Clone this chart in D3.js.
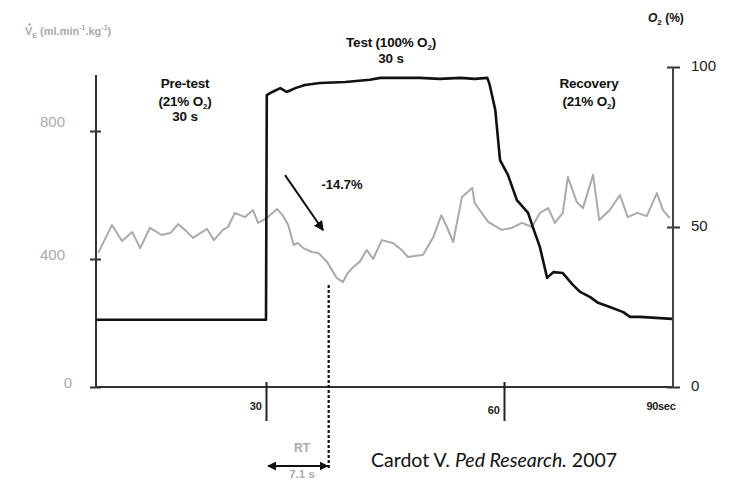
<!DOCTYPE html>
<html><head><meta charset="utf-8">
<script src="https://cdn.jsdelivr.net/npm/d3@7"></script>
<style>body{margin:0;background:#fff}svg{display:block}</style>
</head><body>
<script>
// ---- data ----
const o2Time = [0, 30, 30.1, 30.8, 31.8, 32.6, 33.7, 34.9, 36.8, 40.0,
                43.1, 44.4, 49.4, 51.9, 54.5, 56.3, 57.9, 58.2, 58.9, 59.5,
                60.7, 62.3, 64.3, 65.2, 66.4, 67.7, 68.8, 70.5, 72.3, 73.6,
                75.4, 76.8, 78.9, 81.3, 82.5, 84.3, 90];
const o2Pct  = [21, 21, 91.2, 92.2, 93.4, 92.2, 93.4, 94.4, 95, 95.3,
                96, 96.6, 96.6, 96.3, 96.6, 96.3, 96.6, 94.4, 86.6, 70.9,
                66.3, 58.4, 54.4, 49.7, 43.8, 34.1, 35.9, 35.6, 31.9, 29.7,
                28.1, 26.3, 25, 23.4, 21.9, 21.9, 21.3];
const veTime = [0.4, 2.8, 4.6, 6.4, 7.8, 9.5, 11.6, 13.1, 14.5, 16.1,
                17.1, 19.6, 20.8, 22.4, 23.3, 24.5, 26.3, 27.7, 28.6, 30.1,
                31.4, 32.1, 32.8, 33.5, 34.0, 34.7, 35.8, 36.6, 37.7, 38.9,
                39.7, 40.3, 41.0, 41.8, 42.7, 43.5, 44.6, 46.0, 47.1, 47.9,
                49.8, 51.1, 52.1, 52.8, 53.6, 54.7, 56.0, 56.3, 58.0, 59.7,
                61.4, 63.2, 65.0, 66.4, 67.9, 69.1, 70.5, 71.4, 73.0, 74.1,
                75.9, 77.0, 78.9, 80.7, 82.1, 83.8, 85.5, 87.3, 88.4, 89.6];
const veValue = [419, 506, 456, 484, 434, 497, 475, 481, 509, 484,
                 466, 494, 459, 491, 500, 544, 531, 553, 513, 528,
                 556, 537, 506, 444, 450, 434, 422, 419, 391, 341,
                 328, 356, 375, 391, 428, 400, 459, 450, 428, 406,
                 413, 469, 537, 500, 453, 594, 622, 575, 516, 491,
                 497, 513, 500, 544, 559, 513, 544, 656, 578, 559,
                 663, 522, 553, 600, 531, 544, 534, 606, 553, 528];
const leftTicks = [0, 400, 800];
const rightTicks = [0, 50, 100];
const xTicks = [30, 60, 90];
const xTickLabels = ["30", "60", "90sec"];
const rtStart = 30, rtEnd = 37.9;
const rtLabel = "RT", rtValue = "7.1 s";
const dropLabel = "-14.7%";

// ---- layout ----
const W = 733, H = 481;
const FONT = "'Liberation Sans', Arial, sans-serif";
const svg = d3.select("body").append("svg").attr("width", W).attr("height", H)
  .style("font-family", FONT);

const x = d3.scaleLinear().domain([0, 30, 60, 90]).range([96, 266, 504, 672]);
const yL = d3.scaleLinear().domain([0, 1000]).range([387, 67]);
const yR = d3.scaleLinear().domain([0, 100]).range([387, 67]);

const defs = svg.append("defs");
function mk(id, orient) {
  defs.append("marker").attr("id", id).attr("viewBox", "0 0 10 10")
    .attr("refX", 9).attr("refY", 5).attr("markerWidth", 5).attr("markerHeight", 5)
    .attr("orient", orient).attr("markerUnits", "strokeWidth")
    .append("path").attr("d", "M0,0 L10,5 L0,10 z").attr("fill", "#111");
}
mk("arr", "auto"); mk("arrS", "auto-start-reverse");

// ---- x axis ----
const gx = svg.append("g").attr("transform", `translate(0,${yL(0)})`)
  .call(d3.axisBottom(x).tickValues(xTicks).tickSize(0).tickFormat((d, i) => xTickLabels[i]));
gx.attr("font-family", FONT);
gx.select(".domain").attr("d", `M${x(0)},0H${x(90)}`).attr("stroke", "#333").attr("stroke-width", 2);
gx.selectAll(".tick").filter(d => d !== 90).append("line")
  .attr("y1", -5).attr("y2", 34).attr("stroke", "#222").attr("stroke-width", 2);
gx.selectAll(".tick text")
  .attr("text-anchor", "end")
  .attr("x", d => d === 90 ? 3 : -5)
  .attr("y", d => d === 60 ? 27 : 23)
  .attr("dy", 0)
  .attr("font-size", 11).attr("font-weight", "bold").attr("fill", "#222")
  .attr("letter-spacing", -0.3);

// ---- left axis ----
const gL = svg.append("g").attr("transform", `translate(${x(0)},0)`)
  .call(d3.axisLeft(yL).tickValues(leftTicks).tickSize(6));
gL.attr("font-family", FONT);
gL.select(".domain").remove();
gL.append("line").attr("y1", yL(0)).attr("y2", yL(975)).attr("stroke", "#333").attr("stroke-width", 2);
gL.selectAll(".tick line").attr("x1", 5).attr("x2", -6).attr("stroke", "#333").attr("stroke-width", 2);
gL.selectAll(".tick text")
  .attr("x", d => d === 0 ? -24 : -31)
  .attr("dy", d => d === 800 ? "-0.3em" : "0em")
  .attr("font-size", 15).attr("fill", "#aaa");

// ---- right axis ----
const gR = svg.append("g").attr("transform", `translate(${x(90) + 1},0)`)
  .call(d3.axisRight(yR).tickValues(rightTicks).tickSize(7));
gR.attr("font-family", FONT);
gR.select(".domain").remove();
gR.append("line").attr("y1", yR(0)).attr("y2", yR(100)).attr("stroke", "#444").attr("stroke-width", 2);
gR.selectAll(".tick line").attr("x1", -6).attr("x2", 7).attr("stroke", "#333").attr("stroke-width", 2);
gR.selectAll(".tick text").attr("x", 18).attr("dy", "0.25em")
  .attr("font-size", 15).attr("fill", "#222");

// ---- lines ----
const veLine = d3.line().x(d => x(d[0])).y(d => yL(d[1]));
svg.append("path").datum(veTime.map((t, i) => [t, veValue[i]]))
  .attr("d", veLine).attr("fill", "none").attr("stroke", "#aaa").attr("stroke-width", 2)
  .attr("stroke-linejoin", "round");

const o2Line = d3.line().x(d => x(d[0])).y(d => yR(d[1]));
svg.append("path").datum(o2Time.map((t, i) => [t, o2Pct[i]]))
  .attr("d", o2Line).attr("fill", "none").attr("stroke", "#111").attr("stroke-width", 2.6)
  .attr("stroke-linejoin", "round");

// ---- axis titles ----
const lt = svg.append("text").attr("x", 25).attr("y", 35)
  .attr("font-size", 11).attr("font-weight", "bold").attr("fill", "#aaa");
lt.append("tspan").text("V");
lt.append("tspan").attr("font-size", 7).attr("dy", 3).text("E");
lt.append("tspan").attr("dy", -3).text(" (ml.min");
lt.append("tspan").attr("font-size", 7).attr("dy", -5).text("-1");
lt.append("tspan").attr("dy", 5).text(".kg");
lt.append("tspan").attr("font-size", 7).attr("dy", -5).text("-1");
lt.append("tspan").attr("dy", 5).text(")");
svg.append("circle").attr("cx", 29.5).attr("cy", 24.5).attr("r", 1.3).attr("fill", "#aaa");

const rt = svg.append("text").attr("x", 648).attr("y", 22)
  .attr("font-size", 12).attr("font-weight", "bold").attr("fill", "#111");
rt.append("tspan").attr("font-style", "italic").text("O");
rt.append("tspan").attr("font-size", 8).attr("dy", 3).text("2");
rt.append("tspan").attr("dy", -3).text(" (%)");

// ---- phase labels ----
function o2Label(sel, pre, post) {
  sel.append("tspan").text(pre + "O");
  sel.append("tspan").attr("font-size", 8).attr("dy", 3).text("2");
  sel.append("tspan").attr("dy", -3).text(post);
}
const lab = svg.append("g").attr("font-size", 13.5).attr("font-weight", "bold")
  .attr("fill", "#111").attr("text-anchor", "middle").attr("letter-spacing", -0.2);
lab.append("text").attr("x", 185).attr("y", 88).text("Pre-test");
o2Label(lab.append("text").attr("x", 185).attr("y", 106), "(21% ", ")");
lab.append("text").attr("x", 185).attr("y", 121).text("30 s");

o2Label(lab.append("text").attr("x", 391).attr("y", 47), "Test (100% ", ")");
lab.append("text").attr("x", 391).attr("y", 63).text("30 s");

lab.append("text").attr("x", 589).attr("y", 88).text("Recovery");
o2Label(lab.append("text").attr("x", 589).attr("y", 106), "(21% ", ")");

svg.append("text").attr("x", 342).attr("y", 189).attr("text-anchor", "middle")
  .attr("font-size", 13).attr("font-weight", "bold").attr("fill", "#111").text(dropLabel);

// arrow
svg.append("line").attr("x1", x(32.4)).attr("y1", yL(662)).attr("x2", x(37.2)).attr("y2", yL(490))
  .attr("stroke", "#111").attr("stroke-width", 2).attr("marker-end", "url(#arr)");

// RT dashed line
svg.append("line").attr("x1", x(rtEnd)).attr("x2", x(rtEnd)).attr("y1", 285).attr("y2", 468)
  .attr("stroke", "#111").attr("stroke-width", 2.2).attr("stroke-dasharray", "3,2");
svg.append("line").attr("x1", x(rtStart) + 2).attr("x2", x(rtEnd) - 1).attr("y1", 466).attr("y2", 466)
  .attr("stroke", "#111").attr("stroke-width", 1.8)
  .attr("marker-start", "url(#arrS)").attr("marker-end", "url(#arr)");
svg.append("text").attr("x", 302).attr("y", 452).attr("text-anchor", "middle")
  .attr("font-size", 12).attr("font-weight", "bold").attr("fill", "#aaa").text(rtLabel);
svg.append("text").attr("x", 302).attr("y", 478).attr("text-anchor", "middle")
  .attr("font-size", 11.5).attr("font-weight", "bold").attr("fill", "#aaa").text(rtValue);

// citation
const cit = svg.append("text").attr("x", 371).attr("y", 467)
  .attr("font-family", "Lato, 'Open Sans', sans-serif").attr("font-size", 19.5).attr("fill", "#111");
cit.append("tspan").text("Cardot V. ");
cit.append("tspan").attr("font-style", "italic").text("Ped Research.");
cit.append("tspan").text(" 2007");
</script>
</body></html>
